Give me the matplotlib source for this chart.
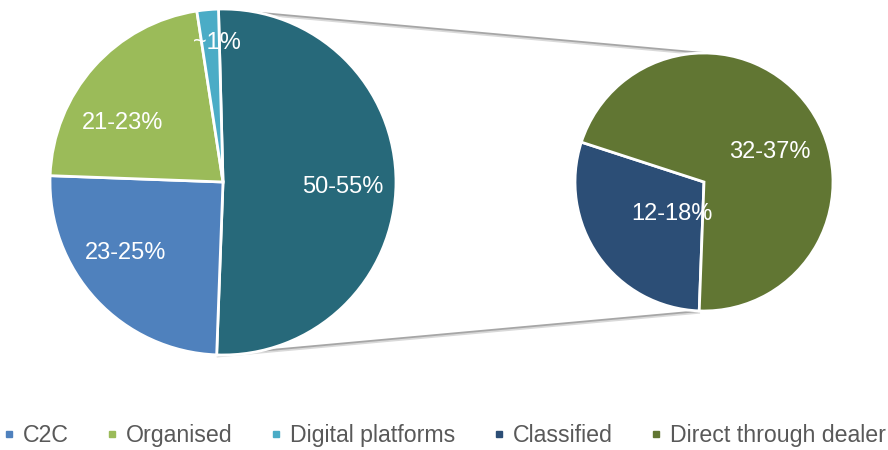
import matplotlib
matplotlib.use("Agg")
import matplotlib.pyplot as plt
import numpy as np
from matplotlib.lines import Line2D

plt.rcParams['font.family'] = ['Liberation Sans', 'DejaVu Sans']

# ---- data ----
main_categories = ['Others', 'C2C', 'Organised', 'Digital platforms']
main_values = [51, 25, 22, 2]
main_labels = ['50-55%', '23-25%', '21-23%', '~1%']

sub_categories = ['Classified', 'Direct through dealer']
sub_values = [15, 36]
sub_labels = ['12-18%', '32-37%']

legend_categories = ['C2C', 'Organised', 'Digital platforms', 'Classified', 'Direct through dealer']

# ---- style ----
colors_main = ['#27697A', '#4F81BD', '#9BBB59', '#4BACC6']
colors_sub = ['#2C4E76', '#617633']
legend_colors = ['#4F81BD', '#9BBB59', '#4BACC6', '#2C4E76', '#617633']

W, H = 888, 450
fig = plt.figure(figsize=(W / 100, H / 100), dpi=100)
ax = fig.add_axes([0, 0, 1, 1])

c1, r1 = (223, 268), 173
c2, r2 = (704, 268), 129

wp = dict(edgecolor='white', linewidth=2)
w1, _ = ax.pie(main_values, colors=colors_main, center=c1, radius=r1,
               startangle=91.5, counterclock=False, wedgeprops=wp, frame=True)
w2, _ = ax.pie(sub_values, colors=colors_sub, center=c2, radius=r2,
               startangle=162, counterclock=True, wedgeprops=wp, frame=True)

ax.set_xlim(0, W)
ax.set_ylim(0, H)
ax.set_aspect('equal')
ax.axis('off')

# connector lines from the "Others" wedge edges to the secondary pie
others = w1[0]
ta, tb = others.theta1, others.theta2
top_angle = max(ta, tb)
bot_angle = min(ta, tb)
p_top = (c1[0] + r1 * np.cos(np.radians(top_angle)), c1[1] + r1 * np.sin(np.radians(top_angle)))
p_bot = (c1[0] + r1 * np.cos(np.radians(bot_angle)), c1[1] + r1 * np.sin(np.radians(bot_angle)))
q_top = (c2[0], c2[1] + r2)
q_bot = (c2[0] - 4, c2[1] - r2)
for p, q in [(p_top, q_top), (p_bot, q_bot)]:
    ax.plot([p[0], q[0]], [p[1] - 1.5, q[1] - 1.5], color='#D9D9D9', lw=1.6, zorder=0,
            solid_capstyle='butt')
    ax.plot([p[0], q[0]], [p[1], q[1]], color='#A6A6A6', lw=1.3, zorder=0,
            solid_capstyle='butt')


def place_labels(wedges, labels, center, radius, dists, shifts):
    for w, lab, d, s in zip(wedges, labels, dists, shifts):
        mid = (w.theta1 + w.theta2) / 2 + s
        x = center[0] + d * radius * np.cos(np.radians(mid))
        y = center[1] + d * radius * np.sin(np.radians(mid))
        ax.text(x, y, lab, color='white', fontsize=17, ha='center', va='center_baseline',
                zorder=5)


place_labels(w1, main_labels, c1, r1, [0.69, 0.69, 0.68, 0.82], [-1, -7.8, 10.3, -2.5])
place_labels(w2, sub_labels, c2, r2, [0.34, 0.57], [8, -9])

handles = [Line2D([], [], marker='s', color=c, linestyle='none', markersize=3.9)
           for c in legend_colors]
fig.legend(handles, legend_categories, loc='center', bbox_to_anchor=(445 / W, 14.5 / H),
           ncol=5, frameon=False, fontsize=16.7, handlelength=0.4, handletextpad=0.39,
           columnspacing=1.68, labelcolor='#595959')

fig.savefig('out.png', dpi=100)
